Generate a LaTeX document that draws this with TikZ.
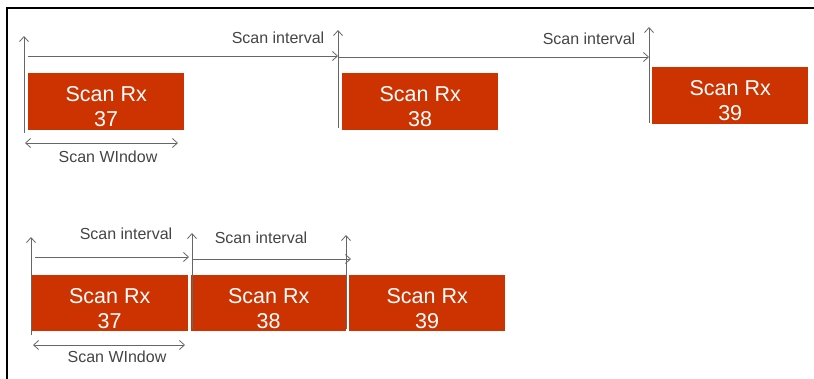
\documentclass[tikz,border=0pt]{standalone}
\usepackage{fontspec}
\setmainfont{Liberation Sans}
\usetikzlibrary{arrows.meta}
\definecolor{boxred}{HTML}{CC3300}
\definecolor{linegray}{HTML}{666666}
\definecolor{labelgray}{HTML}{444444}
\tikzset{
  rxbox/.style={fill=boxred, draw=none, minimum width=156pt, minimum height=57pt,
    inner sep=0pt, anchor=north west},
  rxtext/.style={text=white, align=center, inner sep=0pt, font=\fontsize{21.5}{25}\selectfont},
  arr/.style={draw=linegray, line width=0.8pt, -{Straight Barb[length=5pt,width=9pt]}},
  darr/.style={draw=linegray, line width=0.8pt, {Straight Barb[length=5pt,width=9pt]}-{Straight Barb[length=5pt,width=9pt]}},
  lbl/.style={text=labelgray, font=\fontsize{16}{18}\selectfont, inner sep=0pt}
}
\begin{document}
\begin{tikzpicture}[x=1pt,y=-1pt]
\useasboundingbox (0,0) rectangle (814,379);
% frame
\draw[line width=1.5pt] (7,379) -- (7,8) -- (814,8);
% top row boxes
\node[rxbox] (t37) at (28,73) {};
\node[rxbox] (t38) at (342,73) {};
\node[rxbox] (t39) at (652,67) {};
\node[rxtext] (t37t) at ([yshift=-5pt]t37.center) {Scan Rx\\37};
\node[rxtext] (t38t) at ([yshift=-5pt]t38.center) {Scan Rx\\38};
\node[rxtext] (t39t) at ([yshift=-5pt]t39.center) {Scan Rx\\39};
% top row arrows
\coordinate (a1b) at (24,133); \coordinate (a1t) at (24,36);
\coordinate (a2b) at (338,128); \coordinate (a2t) at (338,30);
\coordinate (a3b) at (649,123); \coordinate (a3t) at (649,27);
\draw[arr] (a1b) -- (a1t);
\draw[arr] (a2b) -- (a2t);
\draw[arr] (a3b) -- (a3t);
\coordinate (h1s) at (28,56); \coordinate (h1e) at (338,56);
\coordinate (h2s) at (338,57); \coordinate (h2e) at (649,57);
\draw[arr] (h1s) -- (h1e);
\draw[arr] (h2s) -- (h2e);
\node[lbl] (l1) at (278,38) {Scan interval};
\node[lbl] (l2) at (589,39) {Scan interval};
\coordinate (w1s) at (25,143); \coordinate (w1e) at (178,143);
\draw[darr] (w1s) -- (w1e);
\node[lbl] (lw1) at (108,157) {Scan WIndow};
% bottom row boxes
\node[rxbox, minimum width=157pt, minimum height=56pt] (b37) at (31,275) {};
\node[rxbox, minimum width=155pt, minimum height=56pt] (b38) at (191,275) {};
\node[rxbox, minimum width=156pt, minimum height=56pt] (b39) at (349,275) {};
\node[rxtext] (b37t) at ([yshift=-5pt]b37.center) {Scan Rx\\37};
\node[rxtext] (b38t) at ([yshift=-5pt]b38.center) {Scan Rx\\38};
\node[rxtext] (b39t) at ([yshift=-5pt]b39.center) {Scan Rx\\39};
% bottom row arrows
\coordinate (c1b) at (31,335); \coordinate (c1t) at (31,237);
\coordinate (c2b) at (192,329); \coordinate (c2t) at (192,233);
\coordinate (c3b) at (346,329); \coordinate (c3t) at (346,235);
\draw[arr] (c1b) -- (c1t);
\draw[arr] (c2b) -- (c2t);
\draw[arr] (c3b) -- (c3t);
\coordinate (g1s) at (35,257); \coordinate (g1e) at (189,257);
\coordinate (g2s) at (192,259); \coordinate (g2e) at (351,259);
\draw[arr] (g1s) -- (g1e);
\draw[arr] (g2s) -- (g2e);
\node[lbl] (m1) at (126,234) {Scan interval};
\node[lbl] (m2) at (261,238) {Scan interval};
\coordinate (w2s) at (33,345); \coordinate (w2e) at (185,345);
\draw[darr] (w2s) -- (w2e);
\node[lbl] (lw2) at (117,357) {Scan WIndow};
\end{tikzpicture}
\end{document}
